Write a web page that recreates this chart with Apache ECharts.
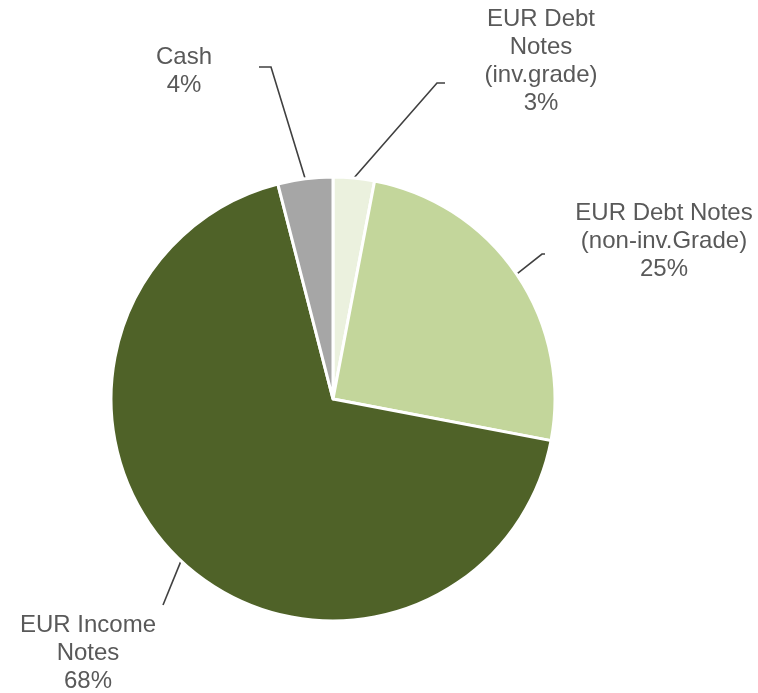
<!DOCTYPE html>
<html>
<head>
<meta charset="utf-8">
<title>Portfolio allocation</title>
<script src="https://cdn.jsdelivr.net/npm/echarts@6/dist/echarts.min.js"></script>
<style>
  html, body { margin: 0; padding: 0; background: #ffffff; }
  #chart { width: 758px; height: 693px; }
</style>
</head>
<body>
<div id="chart"></div>
<script>
// Allocation by instrument, clockwise from 12 o'clock
const categories = [
  'EUR Debt\nNotes\n(inv.grade)',
  'EUR Debt Notes\n(non-inv.Grade)',
  'EUR Income\nNotes',
  'Cash'
];
const shares = [3, 25, 68, 4];
const sliceColors = ['#ebf1de', '#c3d69b', '#4f6228', '#a6a6a6'];

// Where each label sits and where its leader line bends (px)
const labelPlacement = [
  { x: 541, y: 61,  bend: [[437, 83], [445, 83]] },
  { x: 664, y: 241, bend: [[542, 254], [545, 254]] },
  { x: 88,  y: 653, bend: [[163, 605], [163, 605]] },
  { x: 184, y: 71,  bend: [[271, 67], [259, 67]] }
];

const chart = echarts.init(document.getElementById('chart'), null, { renderer: 'canvas' });

chart.setOption({
  animation: false,
  backgroundColor: '#ffffff',
  series: [{
    type: 'pie',
    center: [333, 399],
    radius: 222,
    startAngle: 90,
    clockwise: true,
    avoidLabelOverlap: false,
    emphasis: { disabled: true },
    itemStyle: { borderColor: '#ffffff', borderWidth: 3 },
    label: {
      show: true,
      position: 'outside',
      formatter: p => p.name + '\n' + p.value + '%',
      color: '#595959',
      fontFamily: '"Liberation Sans", Arial, sans-serif',
      fontSize: 24,
      lineHeight: 28,
      align: 'center'
    },
    labelLine: {
      show: true,
      length: 20,
      length2: 10,
      lineStyle: { color: '#404040', width: 1.6 }
    },
    labelLayout: function (params) {
      const place = labelPlacement[params.dataIndex];
      const start = params.labelLinePoints ? params.labelLinePoints[0] : place.bend[0];
      return {
        x: place.x,
        y: place.y,
        align: 'center',
        verticalAlign: 'middle',
        labelLinePoints: [start, place.bend[0], place.bend[1]]
      };
    },
    data: categories.map((name, i) => ({
      name: name,
      value: shares[i],
      itemStyle: { color: sliceColors[i] }
    }))
  }]
});
</script>
</body>
</html>
